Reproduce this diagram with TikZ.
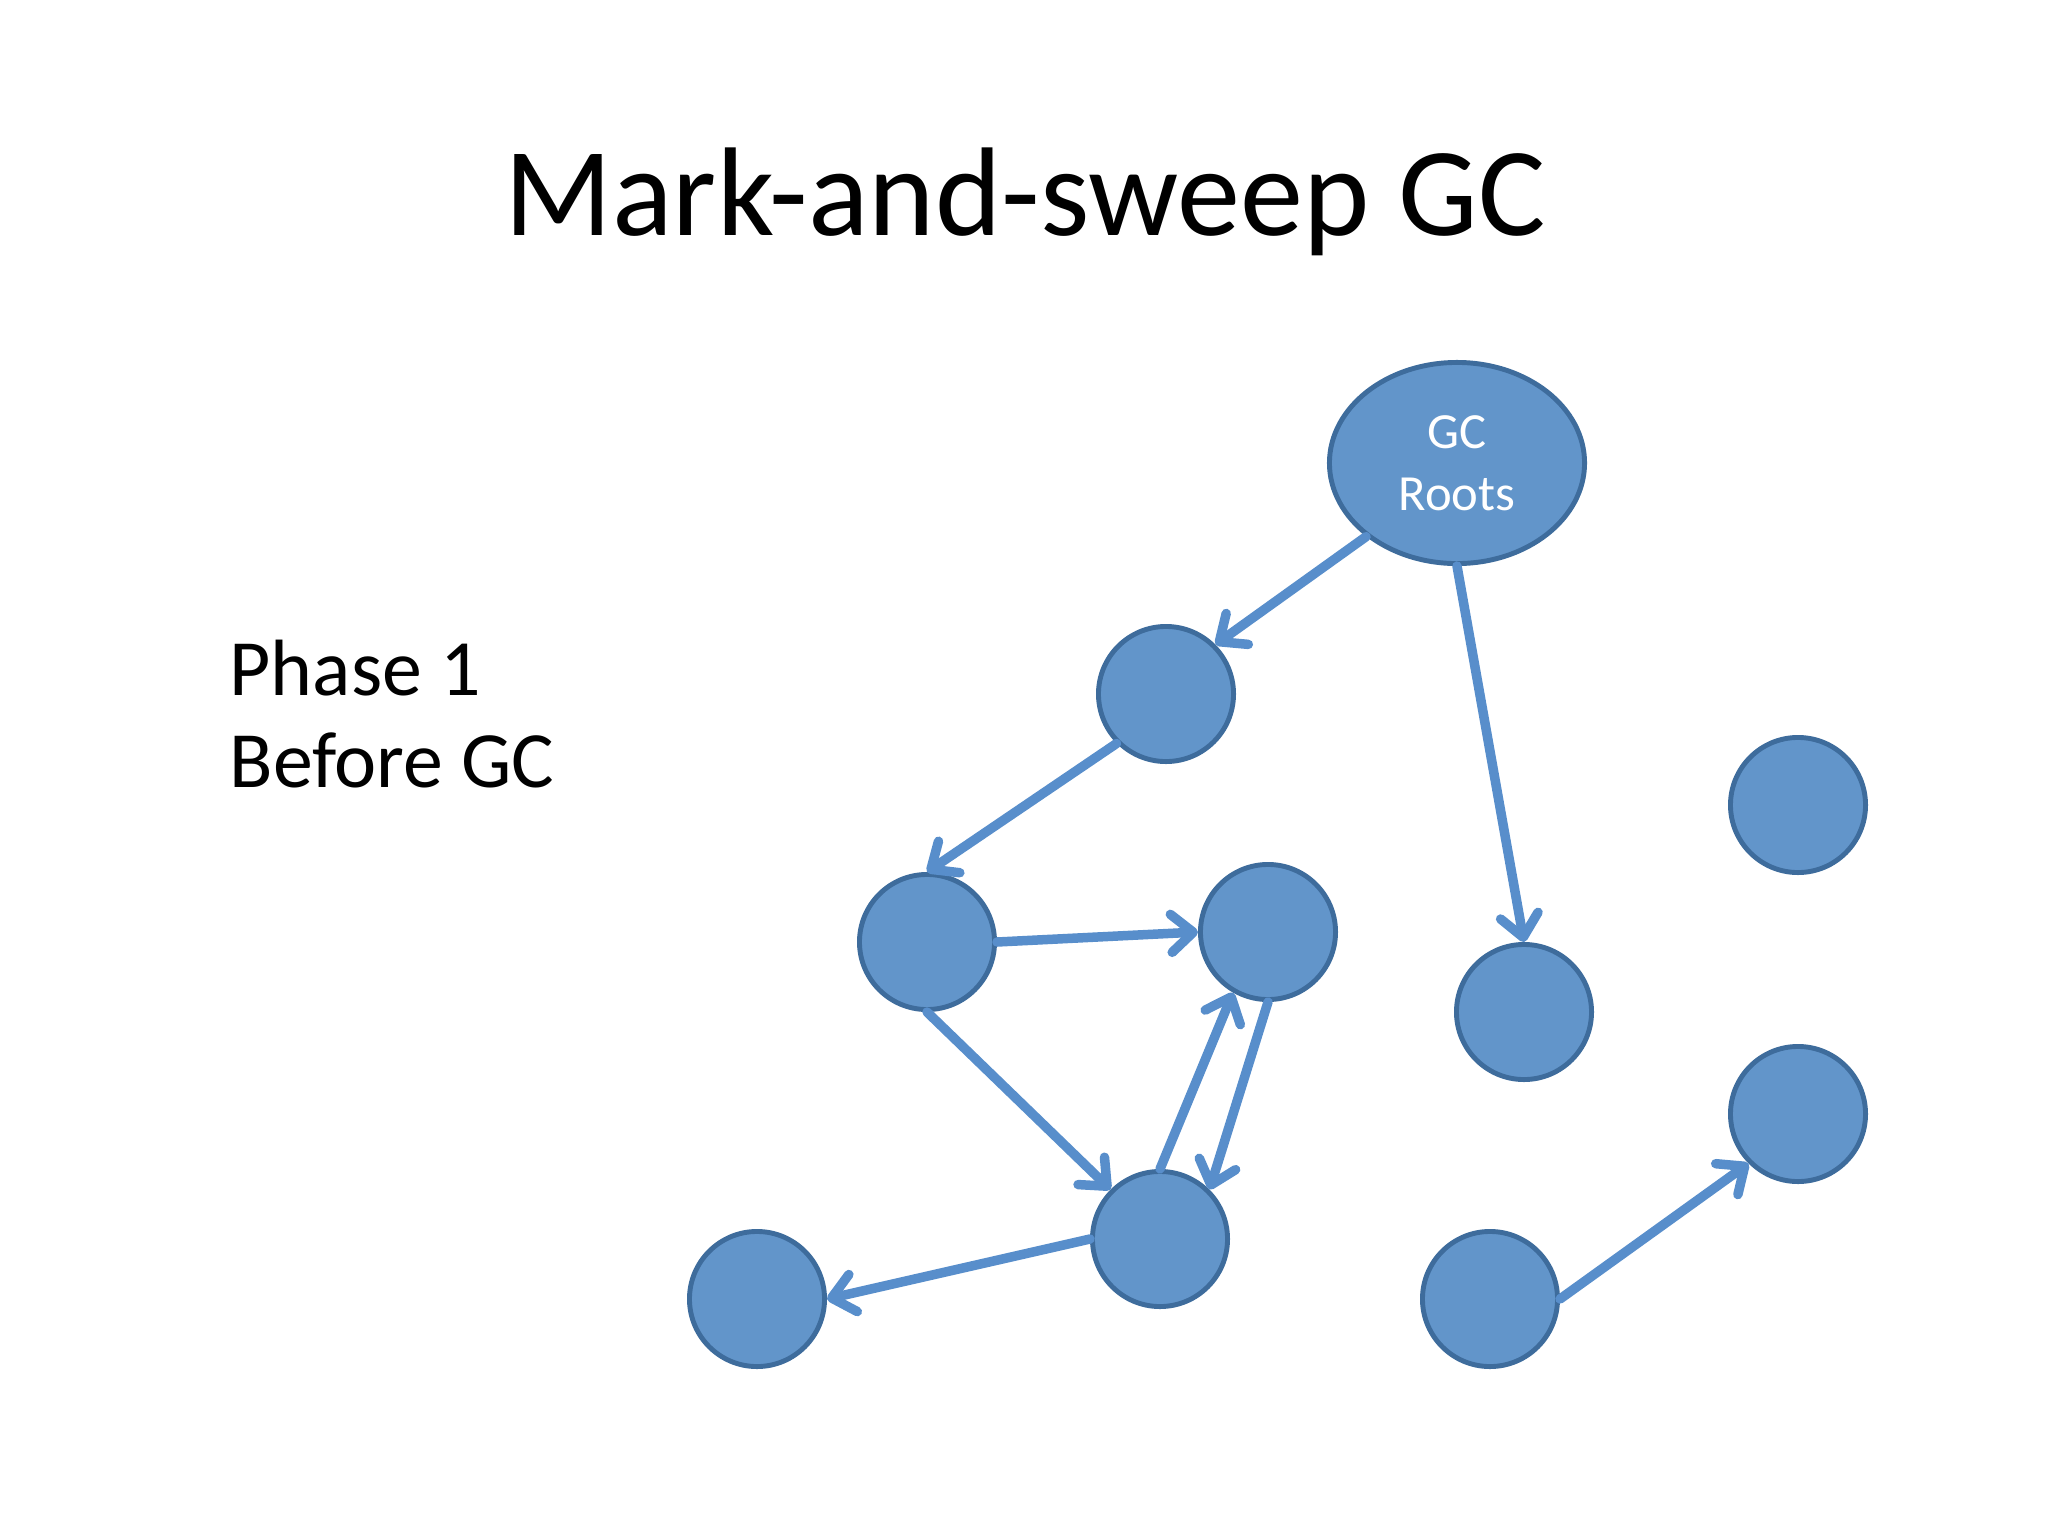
\documentclass[tikz,border=0pt]{standalone}
\usepackage{fontspec}
\setmainfont{Carlito}
\usetikzlibrary{arrows.meta,shapes.geometric}
\definecolor{objfill}{RGB}{98,149,202}
\definecolor{objline}{RGB}{62,108,156}
\definecolor{refline}{RGB}{88,142,203}

\begin{document}
\begin{tikzpicture}[x=0.01cm, y=-0.01cm]
	\tikzset{obj/.style={circle, draw=objline, fill=objfill, line width=1.4pt, minimum size=1.35cm, inner sep=0pt},
		ref/.style={draw=refline, line width=2.7pt, line cap=round, -{Straight Barb[length=0.22cm, width=0.38cm, line join=round, line cap=round]}}}
	\useasboundingbox (0,0) rectangle (2048,1536);
	\node (title) at (1025,202) {\fontsize{35.9}{43}\selectfont Mark-and-sweep GC};
	\node[anchor=base west, inner sep=0pt] (phase) at (229,695) {\fontsize{22.7}{27}\selectfont Phase 1};
	\node[anchor=base west, inner sep=0pt] (before) at (229,787) {\fontsize{22.7}{27}\selectfont Before GC};
	% heap objects
	\node[ellipse, draw=objline, fill=objfill, line width=1.4pt, minimum width=2.55cm, minimum height=2.01cm, inner sep=0pt, align=center, text=white, font=\fontsize{14.4}{17.6}\selectfont] (roots) at (1457,463) {GC\\Roots};
	\node[obj] (A) at (1166,694) {};
	\node[obj] (B) at (927,942) {};
	\node[obj] (C) at (1268,932) {};
	\node[obj] (D) at (1160,1239) {};
	\node[obj] (E) at (757,1299) {};
	\node[obj] (F) at (1524,1012) {};
	\node[obj] (G) at (1798,805) {};
	\node[obj] (H) at (1798,1114) {};
	\node[obj] (I) at (1490,1299) {};
	% references
	\draw[ref] (roots.219) -- (A.45);
	\draw[ref] (roots.south) -- (F.north);
	\draw[ref] (A.225) -- (B.north);
	\draw[ref] (B.east) -- (C.west);
	\draw[ref] (B.south) -- (D.135);
	\draw[ref] (D.north) -- (C.240);
	\draw[ref] (C.south) -- (D.45);
	\draw[ref] (D.west) -- (E.east);
	\draw[ref] (I.east) -- (H.225);
\end{tikzpicture}
\end{document}
